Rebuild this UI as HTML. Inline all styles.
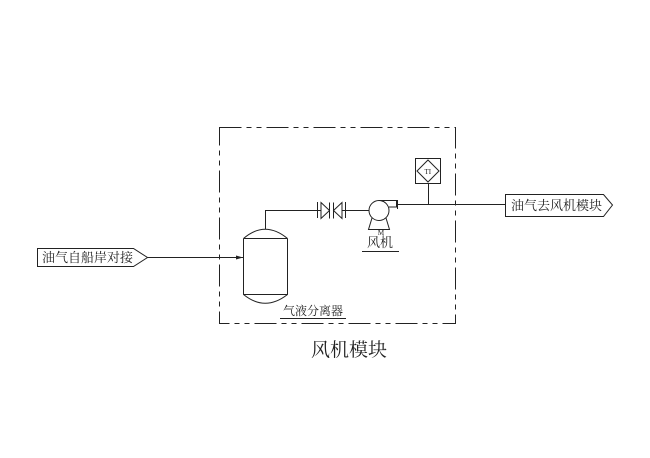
<!DOCTYPE html>
<html><head><meta charset="utf-8"><style>
body{margin:0;background:#fff;}
svg{display:block;}
text{font-family:"Liberation Serif","Noto Serif CJK SC",serif;fill:#222;}
</style></head><body>
<svg width="650" height="458" viewBox="0 0 650 458" xmlns="http://www.w3.org/2000/svg">
<g fill="none" stroke="#222" stroke-width="1">
<rect x="219.5" y="127.5" width="236" height="196" stroke-dasharray="22 5 5 5 5 5"/>
<!-- inlet -->
<path d="M37.5 248.5 H133.5 L147.5 257.5 L133.5 266.5 H37.5 Z"/>
<path d="M147.5 257.5 H243"/>
<!-- tank -->
<path d="M243.5 238.5 Q265 220 287.5 238.5 M243.5 238.5 V294.5 Q265 312 287.5 294.5 V238.5 M243.5 238.5 H287.5 M243.5 294.5 H287.5"/>
<path d="M265.5 229 V210.5 H317"/>
<!-- valve -->
<path d="M317.5 202 V218 M345.5 202 V218 M317.5 210.5 H321 M342 210.5 H345.5 M345.5 210.5 H369"/>
<path d="M321 202.5 L329.5 210.5 L321 218.5 Z M342 202.5 L333.5 210.5 L342 218.5 Z M329.5 202.5 V218.5 M333.5 202.5 V218.5"/>
<!-- pump -->
<circle cx="379" cy="210.5" r="10"/>
<path d="M379 200.5 H396.5 V207 H389"/>
<path d="M397.5 200 V209 M397.5 204.5 H505"/>
<path d="M372 218 L368.5 229.5 H389.5 L386 218"/>
<path d="M362 251.5 H399"/>
<!-- instrument -->
<rect x="415.5" y="158.5" width="25" height="25"/>
<path d="M428 160 L439 171 L428 182 L417 171 Z"/>
<path d="M428.5 183.5 V204.5"/>
<!-- outlet -->
<path d="M505.5 194.5 H603.5 L612.5 205 L603.5 216.5 H505.5 Z"/>
<path d="M280 318.5 H346"/>
</g>
<path d="M243 257.5 L236 255.5 V259.5 Z" fill="#222"/>
<text x="424.5" y="174" font-size="7">TI</text>
<text x="381" y="235" font-size="7" text-anchor="middle">M</text>
<text x="42" y="262" font-size="13">油气自船岸对接</text>
<text x="511" y="210" font-size="13">油气去风机模块</text>
<text x="367" y="247" font-size="13">风机</text>
<text x="283" y="315" font-size="12">气液分离器</text>
<text x="311" y="356" font-size="19">风机模块</text>
</svg>
</body></html>
